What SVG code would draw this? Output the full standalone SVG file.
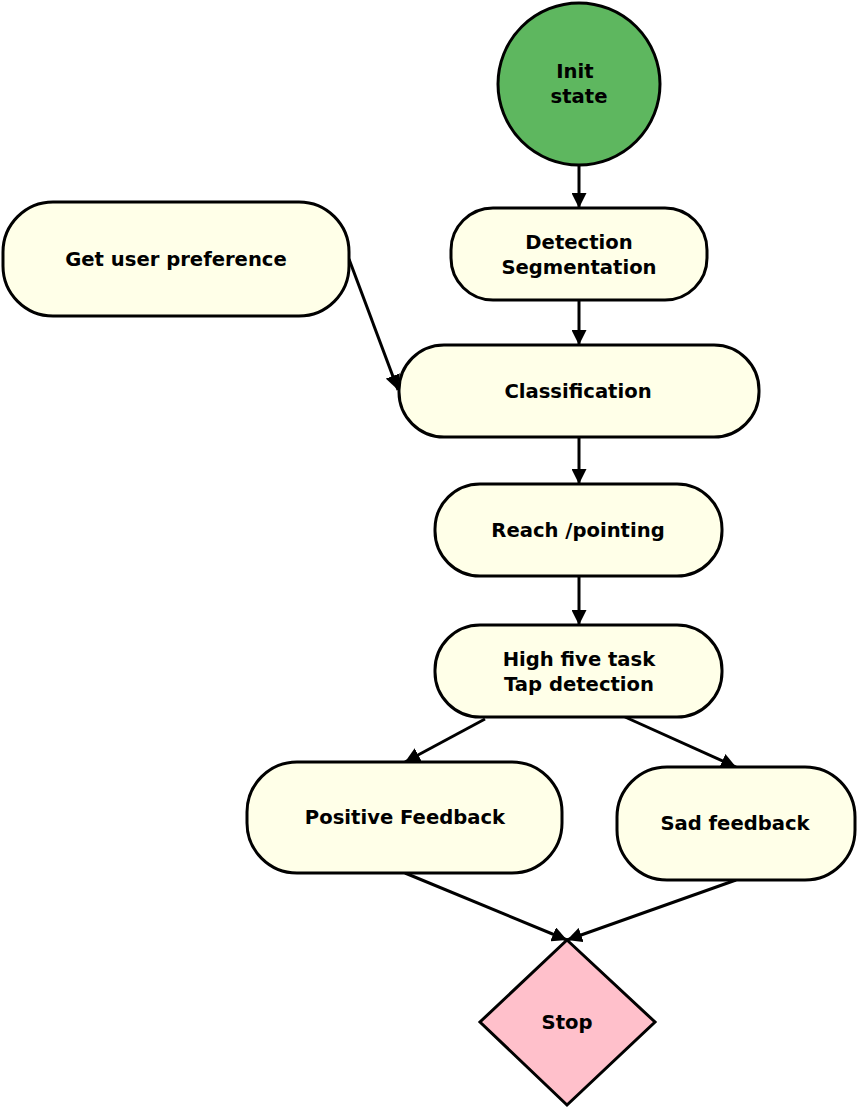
<svg xmlns="http://www.w3.org/2000/svg" width="858" height="1110" viewBox="0 0 858 1110">
<defs>
<marker id="ah" viewBox="0 0 10 10" refX="10" refY="5" markerWidth="5" markerHeight="5" orient="auto" markerUnits="strokeWidth">
<path d="M0,0 L10,5 L0,10 Z" fill="#000"/>
</marker>
<style>
.n{fill:#ffffe8;stroke:#000;stroke-width:3}
.t{font-family:"DejaVu Sans",sans-serif;font-weight:bold;font-size:19.6px;fill:#000;text-anchor:middle}
.c{stroke:#000;stroke-width:3;fill:none;marker-end:url(#ah)}
</style>
</defs>
<rect width="858" height="1110" fill="#fff"/>
<g id="connectors">
<line class="c" x1="579" y1="165" x2="579" y2="208"/>
<line class="c" x1="579" y1="300" x2="579" y2="345"/>
<line class="c" x1="349" y1="259" x2="398" y2="390"/>
<line class="c" x1="579" y1="437" x2="579" y2="484"/>
<line class="c" x1="579" y1="576" x2="579" y2="625"/>
<line class="c" x1="485" y1="719" x2="405" y2="762"/>
<line class="c" x1="625" y1="717" x2="736" y2="767"/>
<line class="c" x1="405" y1="873" x2="567" y2="940"/>
<line class="c" x1="736" y1="880" x2="567" y2="940"/>
</g>
<g id="init">
<circle cx="579" cy="84" r="81" fill="#5eb75f" stroke="#000" stroke-width="3"/>
<text class="t" x="575" y="78">Init</text>
<text class="t" x="579" y="103">state</text>
</g>
<g id="detection">
<rect class="n" x="451" y="208" width="256" height="92" rx="42" ry="42"/>
<text class="t" x="579" y="249">Detection</text>
<text class="t" x="579" y="274">Segmentation</text>
</g>
<g id="userpref">
<rect class="n" x="3" y="202" width="346" height="114" rx="50" ry="50"/>
<text class="t" x="176" y="266">Get user preference</text>
</g>
<g id="classification">
<rect class="n" x="399" y="345" width="360" height="92" rx="45" ry="45"/>
<text class="t" x="578" y="398">Classification</text>
</g>
<g id="reach">
<rect class="n" x="435" y="484" width="287" height="92" rx="45" ry="45"/>
<text class="t" x="578" y="537">Reach /pointing</text>
</g>
<g id="highfive">
<rect class="n" x="435" y="625" width="287" height="92" rx="45" ry="45"/>
<text class="t" x="579" y="666">High five task</text>
<text class="t" x="579" y="691">Tap detection</text>
</g>
<g id="positive">
<rect class="n" x="247" y="762" width="315" height="111" rx="50" ry="50"/>
<text class="t" x="405" y="824">Positive Feedback</text>
</g>
<g id="sad">
<rect class="n" x="617" y="767" width="238" height="113" rx="50" ry="50"/>
<text class="t" x="735" y="830">Sad feedback</text>
</g>
<g id="stop">
<polygon points="567,940 655,1022 567,1105 480,1022" fill="#ffc0cb" stroke="#000" stroke-width="3"/>
<text class="t" x="567" y="1029">Stop</text>
</g>
</svg>
